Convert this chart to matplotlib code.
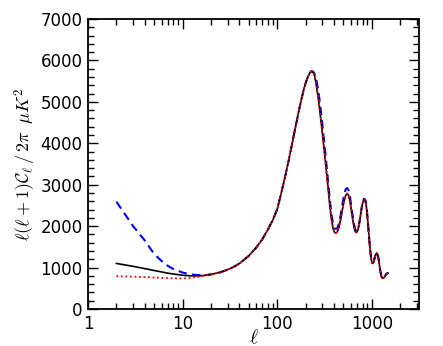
import numpy as np
import matplotlib
matplotlib.use("Agg")
import matplotlib.pyplot as plt
from matplotlib.ticker import MultipleLocator, LogLocator, FixedLocator, NullFormatter

# multipole grid, split where the three curves differ (low l) and agree (mid)
ell_low = [2, 3, 4, 5, 6, 7, 8, 10, 12, 14, 17, 20]
ell_mid = [25, 30, 35, 40, 50, 60, 70, 80, 90, 100, 110, 120, 130, 140, 150,
           160, 170, 180, 190, 200, 210, 220, 230]
ell_high = [240, 250, 260, 270, 280, 290, 300,
            315, 330, 345, 360, 375, 390, 405, 420, 435, 450,
            470, 490, 510, 530, 550, 570, 590, 610, 630, 650, 670, 690, 710,
            730, 750, 770, 790, 810, 830, 850, 870, 890, 910, 930, 950, 970,
            990, 1010, 1030, 1050, 1070, 1090, 1110, 1130, 1150, 1170, 1190,
            1210, 1230, 1250, 1270, 1290, 1310, 1330, 1350,
            1380, 1410, 1440, 1470, 1490]

# low-l part of each spectrum
solid_low = [1100, 1030, 975, 930, 895, 865, 845, 815, 802, 800, 810, 835]
dotted_low = [790, 780, 770, 760, 752, 745, 740, 738, 750, 770, 800, 835]
dashed_low = [2590, 2000, 1650, 1330, 1160, 1040, 965, 880, 840, 820, 815, 835]

# shared rise to the first peak
common_mid = [885, 950, 1020, 1100, 1280, 1480, 1690, 1920, 2150, 2400, 2780,
              3140, 3500, 3850, 4190, 4500, 4790, 5050, 5270, 5450, 5590, 5690,
              5745]

# acoustic peaks (black solid and red dotted coincide here)
solid_high = [5720, 5620, 5400, 5150, 4870, 4570, 4280,
              3820, 3380, 2950, 2520, 2170, 1950, 1850, 1830, 1870, 1970,
              2170, 2400, 2600, 2740, 2790, 2740, 2590, 2380, 2160, 1980, 1870,
              1845, 1890, 2000, 2160, 2330, 2490, 2600, 2650, 2640, 2540, 2360,
              2100, 1830, 1570, 1350, 1190, 1110, 1100, 1140, 1210, 1280, 1330,
              1350, 1330, 1260, 1160, 1040, 930, 840, 780, 750, 740, 745, 760,
              790, 820, 845, 860, 865]
dashed_high = [5730, 5670, 5530, 5330, 5070, 4780, 4480,
               4020, 3560, 3100, 2660, 2300, 2060, 1950, 1930, 1970, 2060,
               2270, 2530, 2750, 2890, 2920, 2860, 2700, 2470, 2240, 2050, 1920,
               1880, 1910, 2010, 2170, 2340, 2500, 2610, 2660, 2650, 2560, 2380,
               2120, 1850, 1590, 1370, 1210, 1120, 1110, 1150, 1220, 1290, 1340,
               1360, 1340, 1270, 1170, 1050, 940, 850, 790, 760, 750, 755, 770,
               800, 830, 855, 870, 875]

x_ticks = [1, 10, 100, 1000]
x_ticklabels = ["1", "10", "100", "1000"]
y_ticks = [0, 1000, 2000, 3000, 4000, 5000, 6000, 7000]

ell = ell_low + ell_mid + ell_high
cl_solid = solid_low + common_mid + solid_high
cl_dotted = dotted_low + common_mid + solid_high
cl_dashed = dashed_low + common_mid + dashed_high

plt.rcParams["mathtext.fontset"] = "cm"

fig = plt.figure(figsize=(4.43, 3.46), dpi=100)
ax = fig.add_axes([0.1986, 0.1069, 0.7472, 0.8381])

ax.plot(ell, cl_dashed, color="blue", lw=1.5, ls=(0, (4, 2.5)), zorder=2)
ax.plot(ell, cl_solid, color="black", lw=1.2, zorder=3)
ax.plot(ell, cl_dotted, color="red", lw=1.3, ls=(0, (1, 1.5)), zorder=4)

ax.set_xscale("log")
ax.set_xlim(1, 3162)
ax.set_ylim(0, 7000)

ax.xaxis.set_major_locator(FixedLocator(x_ticks))
ax.set_xticklabels(x_ticklabels)
ax.xaxis.set_minor_locator(LogLocator(base=10, subs=np.arange(2, 10)))
ax.xaxis.set_minor_formatter(NullFormatter())
ax.yaxis.set_major_locator(FixedLocator(y_ticks))
ax.yaxis.set_minor_locator(MultipleLocator(200))

ax.tick_params(which="both", direction="in", top=True, right=True,
               width=1.0, labelsize=12)
ax.tick_params(which="major", length=7, pad=4)
ax.tick_params(which="minor", length=4)
for s in ax.spines.values():
    s.set_linewidth(1.3)

ax.set_xlabel(r"$\ell$", fontsize=14, labelpad=-3)
ax.set_ylabel(r"$\ell(\ell+1)\mathcal{C}_\ell\,/\,2\pi\;\;\mu K^2$", fontsize=13,
              labelpad=2)

fig.savefig("out.png", dpi=100)
